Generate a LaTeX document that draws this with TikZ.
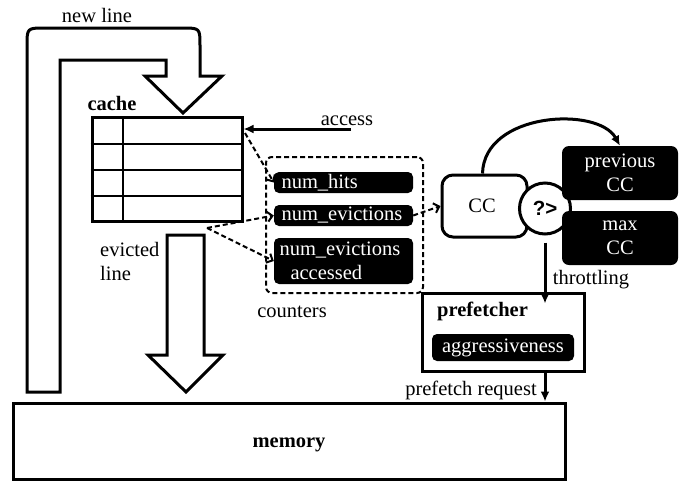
\documentclass[tikz,border=0pt]{standalone}
\usepackage{fontspec}
\setmainfont{Liberation Serif}
\newfontfamily\arialf{Liberation Sans}
\usetikzlibrary{arrows.meta,calc}
\newcommand\fs{\fontsize{20.5}{24}\selectfont}
\begin{document}
\begin{tikzpicture}[x=1pt,y=-1pt,
  every node/.style={font=\fs},
  thk/.style={line width=3pt},
  blk/.style={fill=black, text=white, rounded corners=5pt, inner ysep=0pt, inner xsep=0pt},
  dsh/.style={line width=2pt, dash pattern=on 5pt off 3pt, -{Straight Barb[length=5pt,width=10pt]}},
  arr/.style={line width=3pt, -{Latex[length=10pt,width=9pt]}},
  lbl/.style={anchor=base, inner sep=0pt}]
\useasboundingbox (0,0) rectangle (689,483);

% new line big arrow
\draw[thk, fill=white, line join=miter] (27,392) -- (27,46) .. controls (27,28) .. (45,28) -- (182,28)
  .. controls (200,28) .. (200,46) -- (200,76) -- (222,76) -- (183,113) -- (145,76) -- (166,76)
  -- (166,60) -- (60,60) -- (60,392) -- cycle;
\node[lbl] (newline) at (97,22) {new line};

% cache
\node[lbl, font=\fs\bfseries] (cachelbl) at (112,110) {cache};
\node[draw, thk, minimum width=150pt, minimum height=104pt, inner sep=0pt] (cache) at (167,169.5) {};
\draw[line width=2pt] ($(cache.north west)+(32,0)$) -- ($(cache.south west)+(32,0)$);
\foreach \yy in {144,170,196} \draw[line width=2pt] (cache.west |- 0,\yy) -- (cache.east |- 0,\yy);

% access
\coordinate (accsrc) at (351,129);
\draw[arr] (accsrc) -- (accsrc -| cache.east);
\node[lbl] (acclbl) at (347,125) {access};

% evicted line arrow
\draw[thk, fill=white, line join=miter] (167,235) -- (204,235) -- (204,355) -- (223,355) -- (186,392) -- (148,355) -- (167,355) -- cycle;
\node[anchor=base west, inner sep=0pt, align=left] (evlbl) at (100,280) {evicted\\line};

% counters
\node[draw, line width=2pt, dash pattern=on 5pt off 3pt, rounded corners=6pt, minimum width=157pt, minimum height=136pt] (counters) at (344.5,225) {};
\node[lbl] (cntlbl) at (292,317) {counters};
\node[blk, minimum width=139pt, minimum height=21pt, text width=124pt, align=left] (hits) at (343.5,182.5) {num\_hits};
\node[blk, minimum width=139pt, minimum height=21pt, text width=124pt, align=left] (evic) at (343.5,215.5) {num\_evictions};
\node[blk, minimum width=139pt, minimum height=46pt, text width=128pt, align=left] (evacc) at (343.5,261) {num\_evictions\\\hspace*{11pt}accessed};

\coordinate (hsrc) at (245,133);
\coordinate (evsrc) at (207,228);
\draw[dsh] (hsrc) -- (hits.west);
\draw[dsh] (evsrc) -- (evic.west);
\draw[dsh] (evsrc) -- (evacc.west);

% CC and compare
\node[draw, thk, rounded corners=11pt, minimum width=85pt, minimum height=62pt] (cc) at (484.5,206) {};
\node (cctext) at (482,206) {CC};
\node[draw, thk, fill=white, circle, minimum size=51pt, inner sep=0pt, font=\arialf\fs\bfseries] (cmp) at (545,208.5) {?>};
\node[blk, minimum width=116pt, minimum height=54pt, align=center, rounded corners=7pt] (prev) at (620,173) {previous\\CC};
\node[blk, minimum width=116pt, minimum height=54pt, align=center, rounded corners=7pt] (max) at (620,238) {max\\CC};
\draw[dsh] (evic.east) -- (cc.west);
\draw[arr] ([xshift=-2pt]cc.north) .. controls (484,112) and (598,106) .. (prev.north);

% prefetcher
\node[draw, thk, minimum width=162pt, minimum height=78pt] (pref) at (503,332) {};
\node[lbl, font=\fs\bfseries] (preflbl) at (482.5,316) {prefetcher};
\node[blk, minimum width=142pt, minimum height=27pt] (aggr) at (503,347.5) {aggressiveness};

\coordinate (thr) at (cmp.south |- pref.north);
\draw[arr] ([yshift=-7pt]cmp.south) -- ([yshift=-12pt]thr);
\node[lbl] (thrlbl) at (591,284) {throttling};

% memory
\node[draw, thk, minimum width=552pt, minimum height=76pt] (mem) at (289,441) {};
\node[lbl, font=\fs\bfseries] (memlbl) at (289,447) {memory};
\draw[arr] (thr |- pref.south) -- (thr |- mem.north);
\node[lbl] (reqlbl) at (471,395) {prefetch request};
\end{tikzpicture}
\end{document}
